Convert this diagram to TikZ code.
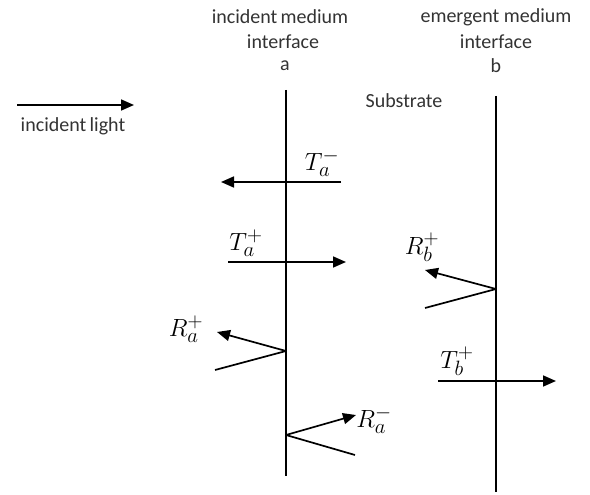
\documentclass[tikz,border=0pt]{standalone}
\usepackage{fontspec}
\setmainfont{Carlito}
\usetikzlibrary{arrows.meta}
\begin{document}
\begin{tikzpicture}[x=1pt,y=-1pt,
  txt/.style={font=\fontsize{20}{22}\selectfont, inner sep=0pt, text=black!80},
  lbl/.style={font=\fontsize{28}{30}\selectfont, inner sep=0pt},
  iface/.style={line width=1.8pt},
  ray/.style={line width=1.7pt},
  arr/.style={ray, -{Triangle[length=13pt,width=11pt]}}]
\useasboundingbox (0,0) rectangle (590,495);
% interfaces
\coordinate (atop) at (286,90);
\coordinate (abot) at (286,476);
\coordinate (btop) at (496,96);
\coordinate (bbot) at (496,492);
\draw[iface] (atop) -- (abot);
\draw[iface] (btop) -- (bbot);
% headings
\node[txt] (ha1) at (280,17) {incident\,medium};
\node[txt] (ha2) at (283,42) {interface};
\node[txt] (ha3) at (285,66) {a};
\node[txt] (hb1) at (496,17) {emergent medium};
\node[txt] (hb2) at (496,42) {interface};
\node[txt] (hb3) at (496,66) {b};
\node[txt] (sub) at (404,101) {Substrate};
% incident light
\coordinate (il1) at (17,105);
\coordinate (il2) at (134,105);
\draw[arr] (il1) -- (il2);
\node[txt] (ilt) at (73,126) {incident\,light};
% T_a^-
\coordinate (tm1) at (341,182);
\coordinate (tm2) at (221,182);
\draw[arr] (tm1) -- (tm2);
\node[lbl] (tml) at (322,163) {$T_a^-$};
% T_a^+
\coordinate (tp1) at (228,262);
\coordinate (tp2) at (346,262);
\draw[arr] (tp1) -- (tp2);
\node[lbl] (tpl) at (246,243) {$T_a^+$};
% R_a^+
\coordinate (rp0) at (215,370);
\coordinate (rpa) at (286,351);
\coordinate (rp2) at (217,332);
\draw[ray] (rp0) -- (rpa);
\draw[arr] (rpa) -- (rp2);
\node[lbl] (rpl) at (186,329) {$R_a^+$};
% R_a^-
\coordinate (rm0) at (355,455);
\coordinate (rma) at (286,435);
\coordinate (rm2) at (356,415);
\draw[ray] (rm0) -- (rma);
\draw[arr] (rma) -- (rm2);
\node[lbl] (rml) at (374,420) {$R_a^-$};
% R_b^+
\coordinate (rb0) at (425,308);
\coordinate (rba) at (496,289);
\coordinate (rb2) at (425,270);
\draw[ray] (rb0) -- (rba);
\draw[arr] (rba) -- (rb2);
\node[lbl] (rbl) at (422,247) {$R_b^+$};
% T_b^+
\coordinate (tb1) at (438,381);
\coordinate (tb2) at (556,381);
\draw[arr] (tb1) -- (tb2);
\node[lbl] (tbl) at (457,361) {$T_b^+$};
\end{tikzpicture}
\end{document}
